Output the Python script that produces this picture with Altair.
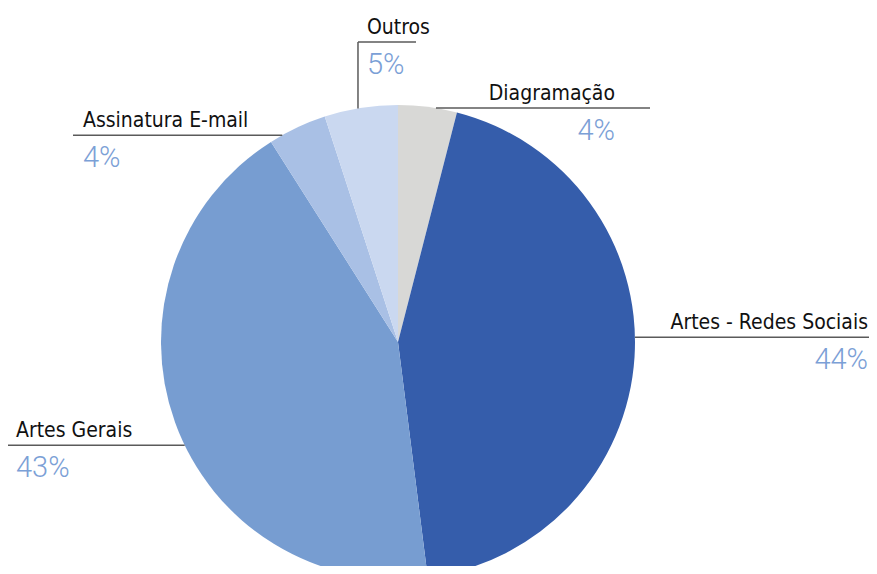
import math
import altair as alt
import pandas as pd

# ---- data ----
categories = ["Diagramação", "Artes - Redes Sociais", "Artes Gerais", "Assinatura E-mail", "Outros"]
values = [4, 44, 43, 4, 5]
pct_labels = ["4%", "44%", "43%", "4%", "5%"]
colors = ["#D8D8D6", "#355DAB", "#779DD1", "#A9C0E5", "#CAD8F0"]

# ---- layout (pixel space of the page) ----
W, H = 861, 558
CX, CY, R = 398, 342, 237
NAME_FONT = "DejaVu Sans Condensed"
PCT_FONT = "Roboto"
# where, inside each slice, the leader line leaves the pie (fraction of slice)
anchor_frac = {"Diagramação": 0.64, "Artes - Redes Sociais": 0.47, "Artes Gerais": 0.461,
               "Assinatura E-mail": 0.22, "Outros": 0.46}
# leader line end x, text x, text align
label_layout = {
    "Diagramação": (650, 615, "right"),
    "Artes - Redes Sociais": (877, 868, "right"),
    "Artes Gerais": (4, 16, "left"),
    "Assinatura E-mail": (73, 83, "left"),
    "Outros": (416, 367, "left"),
}
OUTROS_TOP = 42

df = pd.DataFrame({"cat": categories, "value": values, "pct": pct_labels,
                   "order": list(range(len(categories)))})
total = sum(values)
cum = 0
rules, vrules, texts = [], [], []
for c, v, p in zip(categories, values, pct_labels):
    start, end = cum / total, (cum + v) / total
    cum += v
    ang = 2 * math.pi * (start + anchor_frac[c] * (end - start))
    ax = CX + R * math.sin(ang)
    ay = CY - R * math.cos(ang)
    lend, tx, align = label_layout[c]
    if c == "Outros":
        vrules.append({"x": ax, "y": ay, "y2": OUTROS_TOP})
        rules.append({"x": ax, "x2": lend, "y": OUTROS_TOP})
        ly = OUTROS_TOP
    else:
        rules.append({"x": ax, "x2": lend, "y": ay})
        ly = ay
    texts.append({"tx": tx, "ny": ly - 8, "py": ly + 32, "name": c, "pct": p, "align": align})

rules_df = pd.DataFrame(rules)
vrules_df = pd.DataFrame(vrules)
texts_df = pd.DataFrame(texts)

xs = alt.Scale(domain=[8, 8 + W], nice=False, zero=False)
ys = alt.Scale(domain=[8, 8 + H], nice=False, zero=False, reverse=True)

pie = alt.Chart(df).mark_arc(outerRadius=R, stroke=None).encode(
    theta=alt.Theta("value:Q", stack=True),
    order=alt.Order("order:Q"),
    color=alt.Color("cat:N", scale=alt.Scale(domain=categories, range=colors), legend=None),
    x=alt.datum(CX, type="quantitative", scale=xs, axis=None),
    y=alt.datum(CY, type="quantitative", scale=ys, axis=None),
)

hrule = alt.Chart(rules_df).mark_rule(color="#5a5a5a", strokeWidth=1.5).encode(
    x=alt.X("x:Q", scale=xs, axis=None), x2="x2:Q",
    y=alt.Y("y:Q", scale=ys, axis=None),
)
vrule = alt.Chart(vrules_df).mark_rule(color="#5a5a5a", strokeWidth=1.5).encode(
    x=alt.X("x:Q", scale=xs, axis=None),
    y=alt.Y("y:Q", scale=ys, axis=None), y2="y2:Q",
)

layers = [pie, hrule, vrule]
for al in ["left", "right"]:
    base = alt.Chart(texts_df).transform_filter(alt.datum.align == al)
    layers.append(base.mark_text(align=al, baseline="alphabetic", font=NAME_FONT, fontSize=21,
                                 color="#111111").encode(
        x=alt.X("tx:Q", scale=xs, axis=None), y=alt.Y("ny:Q", scale=ys, axis=None), text="name:N"))
    layers.append(base.mark_text(align=al, baseline="alphabetic", font=PCT_FONT, fontSize=29,
                                 fontWeight=300, color="#7BA0D6").encode(
        x=alt.X("tx:Q", scale=xs, axis=None), y=alt.Y("py:Q", scale=ys, axis=None), text="pct:N"))

chart = alt.layer(*layers).properties(
    width=W, height=H, autosize="none", padding=0, background="white"
).configure_view(stroke=None)

chart.save("out.html", embed_options={"renderer": "svg", "actions": False})
